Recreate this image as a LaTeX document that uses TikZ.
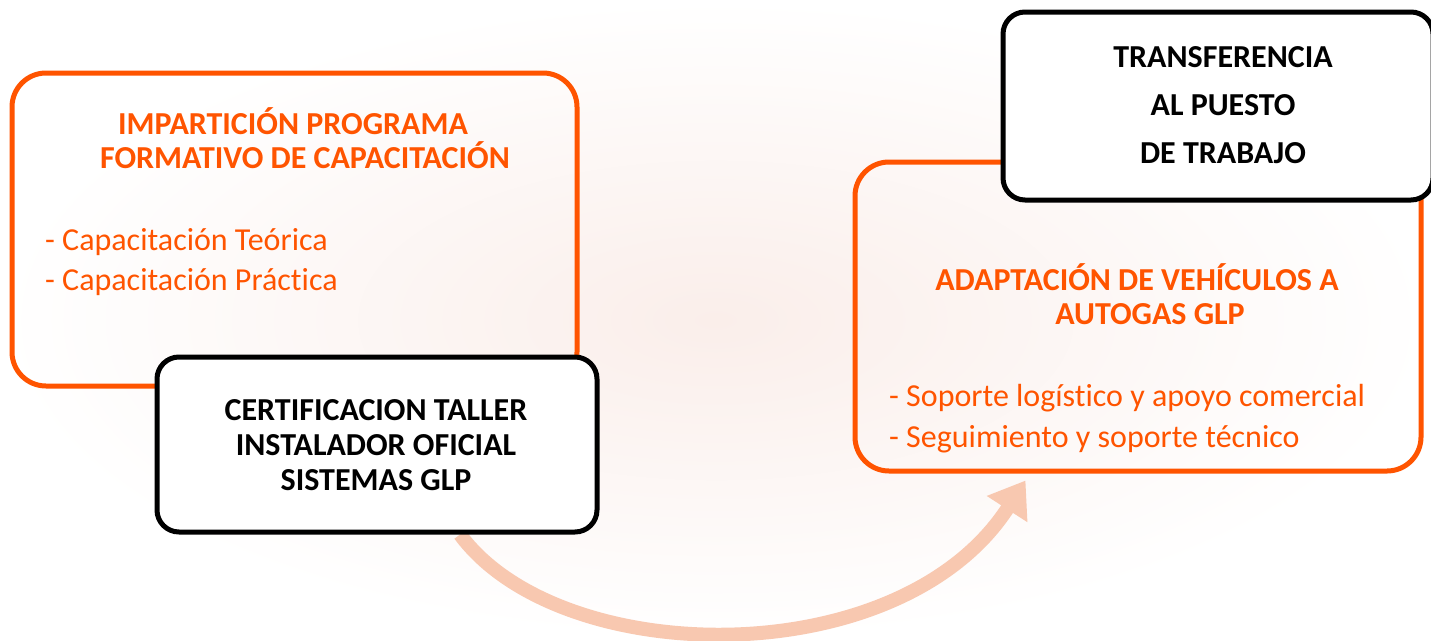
\documentclass[tikz,border=0pt]{standalone}
\usepackage{fontspec}
\setmainfont{Carlito}[Ligatures=NoCommon]
\usetikzlibrary{arrows.meta,backgrounds}
\definecolor{orng}{RGB}{255,84,0}
\definecolor{peach}{RGB}{248,200,176}
\definecolor{bgpink}{RGB}{250,238,234}
\begin{document}
\begin{tikzpicture}[x=1pt,y=-1pt,
  obox/.style={draw=orng, line width=5pt, rounded corners=34pt, inner sep=0pt},
  kbox/.style={draw=black, fill=white, line width=5pt, rounded corners=22pt, inner sep=0pt},
  otitle/.style={anchor=base, text=orng, font=\fontsize{32}{38}\selectfont\bfseries, inner sep=0pt},
  ktitle/.style={anchor=base, text=black, font=\fontsize{32}{38}\selectfont\bfseries, inner sep=0pt},
  oitem/.style={anchor=base west, text=orng, font=\fontsize{32}{38}\selectfont, inner sep=0pt},
  flow/.style={draw=peach, line width=14pt, -{Triangle[length=34pt,width=46pt]}}
]
\useasboundingbox (0,0) rectangle (1431,640);

% left training box
\node[obox, minimum width=565pt, minimum height=313pt] (train) at (294.5,229.5) {};
\node[otitle] (t1) at (293,134) {IMPARTICIÓN PROGRAMA};
\node[otitle] (t2) at (305,168) {FORMATIVO DE CAPACITACIÓN};
\node[oitem] (i1) at (45,250) {- Capacitación Teórica};
\node[oitem] (i2) at (45,290) {- Capacitación Práctica};

% certification box
\node[kbox, minimum width=440pt, minimum height=175pt] (cert) at (377,444.5) {};
\node[ktitle] (c1) at (376,420) {CERTIFICACION TALLER};
\node[ktitle] (c2) at (376,455) {INSTALADOR OFICIAL};
\node[ktitle] (c3) at (376,490) {SISTEMAS GLP};

% right adaptation box
\node[obox, minimum width=566pt, minimum height=309pt] (adapt) at (1138,316.5) {};
\node[otitle] (a1) at (1137,290) {ADAPTACIÓN DE VEHÍCULOS A};
\node[otitle] (a2) at (1150,324) {AUTOGAS GLP};
\node[oitem] (j1) at (889,406) {- Soporte logístico y apoyo comercial};
\node[oitem] (j2) at (889,447) {- Seguimiento y soporte técnico};

% transfer box
\node[kbox, minimum width=430pt, minimum height=188pt] (trans) at (1218,106) {};
\node[ktitle] (r1) at (1223,67) {TRANSFERENCIA};
\node[ktitle] (r2) at (1223,115) {AL PUESTO};
\node[ktitle] (r3) at (1223,163) {DE TRABAJO};

% curved arrow and background wash
\begin{scope}[on background layer]
\shade[inner color=bgpink, outer color=white] (0,0) rectangle (1431,640);
\draw[flow] ([xshift=83pt]cert.south) .. controls (560,670) and (900,675) .. ([xshift=173pt,yshift=-7pt]adapt.south west);
\end{scope}
\end{tikzpicture}
\end{document}
